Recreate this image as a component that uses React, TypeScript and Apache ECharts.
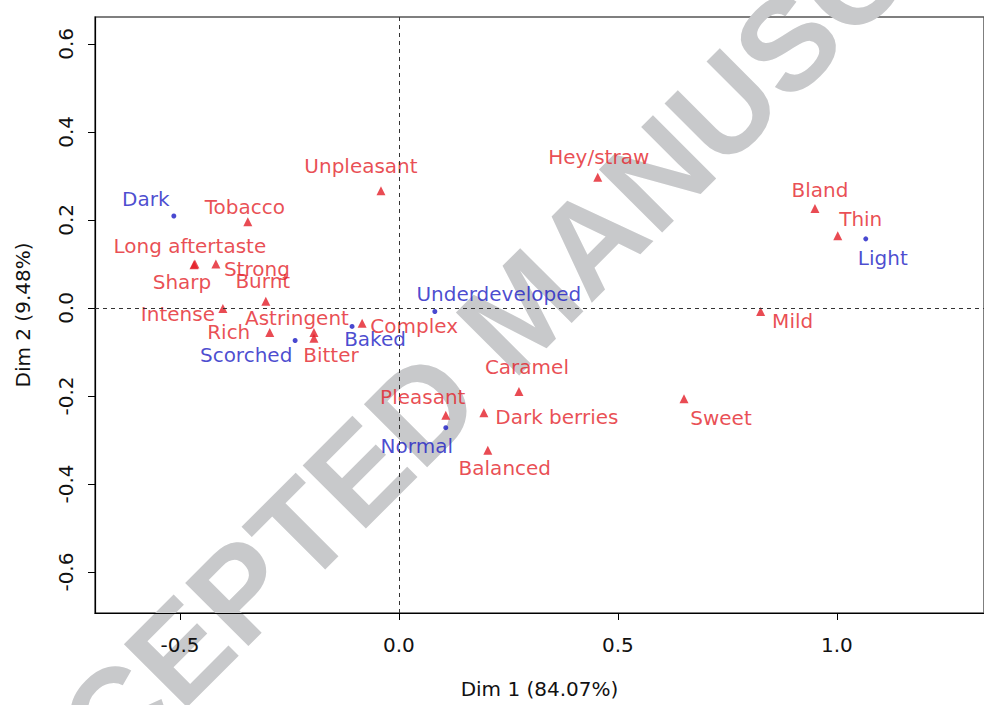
import React, { useEffect, useRef } from "react";
import * as echarts from "echarts";

// Row points (roast categories) of the correspondence analysis
const rowNames = ["Dark", "Light", "Underdeveloped", "Baked", "Scorched", "Normal"];
const rowDim1 = [-0.514, 1.066, 0.082, -0.107, -0.237, 0.107];
const rowDim2 = [0.209, 0.157, -0.008, -0.042, -0.074, -0.272];

// Column points (sensory attributes)
const colNames = [
  "Unpleasant", "Hey/straw", "Bland", "Thin", "Tobacco", "Long aftertaste", "Sharp",
  "Strong", "Burnt", "Intense", "Rich", "Astringent", "Bitter", "Complex", "Mild",
  "Caramel", "Pleasant", "Dark berries", "Sweet", "Balanced",
];
const colDim1 = [
  -0.041, 0.454, 0.95, 1.002, -0.345, -0.466, -0.468, -0.418, -0.304, -0.402, -0.295,
  -0.194, -0.194, -0.084, 0.826, 0.274, 0.107, 0.194, 0.651, 0.203,
];
const colDim2 = [
  0.266, 0.297, 0.226, 0.164, 0.196, 0.1, 0.098, 0.1, 0.015, -0.001, -0.056, -0.056,
  -0.069, -0.035, -0.008, -0.19, -0.244, -0.238, -0.206, -0.323,
];

const dim1Ticks = [-0.5, 0, 0.5, 1.0];
const dim2Ticks = [-0.6, -0.4, -0.2, 0, 0.2, 0.4, 0.6];

// Label placement (pixel offset of each label from its point), chosen to avoid overlaps
const labelOffset: Record<string, [number, number]> = {
  Dark: [-28, -17],
  Light: [17, 19],
  Underdeveloped: [64, -17],
  Baked: [23, 13],
  Scorched: [-49, 14],
  Normal: [-29, 18],
  Unpleasant: [-20, -25],
  "Hey/straw": [1, -20],
  Bland: [5, -18],
  Thin: [23, -17],
  Tobacco: [-3, -15],
  "Long aftertaste": [-5, -18],
  Sharp: [-12, 17],
  Strong: [41, 5],
  Burnt: [-3, -20],
  Intense: [-45, 6],
  Rich: [-41, -1],
  Astringent: [-17, -15],
  Bitter: [17, 17],
  Complex: [52, 3],
  Mild: [32, 10],
  Caramel: [8, -25],
  Pleasant: [-23, -18],
  "Dark berries": [73, 4],
  Sweet: [37, 19],
  Balanced: [17, 18],
};

const FONT = "DejaVu Sans";
const RED = "#e41e28";
const BLUE = "#1c1cc4";

function points(names: string[], xs: number[], ys: number[]) {
  return names.map((n, i) => ({
    name: n,
    value: [xs[i], ys[i]],
    label: { offset: labelOffset[n] || [0, -18] },
  }));
}

export default function App() {
  const ref = useRef<HTMLDivElement>(null);

  useEffect(() => {
    if (!ref.current) return;
    const chart = echarts.init(ref.current, undefined, { renderer: "svg" });

    const axisText = { fontFamily: FONT, fontSize: 20, color: "#111" };

    chart.setOption({
      animation: false,
      backgroundColor: "#fff",
      grid: {
        left: 95,
        right: 0,
        top: 17,
        bottom: 92,
        show: true,
        borderColor: "#555",
        borderWidth: 1.5,
        outerBoundsMode: "none",
      },
      xAxis: {
        type: "value",
        min: -0.694,
        max: 1.336,
        z: 4,
        axisLine: { show: true, onZero: false, lineStyle: { color: "#000", width: 1.2 } },
        axisTick: { show: true, length: 7, customValues: dim1Ticks, lineStyle: { color: "#000" } },
        axisLabel: {
          ...axisText,
          customValues: dim1Ticks,
          margin: 22,
          formatter: (v: number) => v.toFixed(1),
        },
        splitLine: { show: false },
        name: "Dim 1 (84.07%)",
        nameLocation: "middle",
        nameGap: 66,
        nameTextStyle: axisText,
      },
      yAxis: {
        type: "value",
        min: -0.693,
        max: 0.661,
        z: 4,
        axisLine: { show: true, onZero: false, lineStyle: { color: "#000", width: 1.2 } },
        axisTick: { show: true, length: 7, customValues: dim2Ticks, lineStyle: { color: "#000" } },
        axisLabel: {
          ...axisText,
          customValues: dim2Ticks,
          rotate: 90,
          margin: 19,
          formatter: (v: number) => v.toFixed(1),
        },
        splitLine: { show: false },
        name: "Dim 2 (9.48%)",
        nameLocation: "middle",
        nameGap: 62,
        nameTextStyle: axisText,
      },
      graphic: [
        {
          type: "text",
          x: 522,
          y: 309,
          rotation: 0.785,
          z: 1,
          silent: true,
          style: {
            text: "ACCEPTED MANUSCRIPT",
            fontFamily: "Liberation Sans",
            fontWeight: "bold",
            fontSize: 130,
            fill: "#c8c9cb",
            align: "center",
            verticalAlign: "middle",
          },
        },
      ],
      series: [
        {
          // dashed reference lines through the origin
          type: "scatter",
          data: [],
          z: 0,
          silent: true,
          markLine: {
            silent: true,
            symbol: "none",
            label: { show: false },
            lineStyle: { type: [4, 4], color: "#333", width: 1 },
            data: [{ xAxis: 0 }, { yAxis: 0 }],
          },
        },
        {
          name: "Attributes",
          type: "scatter",
          z: 3,
          symbol: "triangle",
          symbolSize: 9,
          itemStyle: { color: RED },
          label: {
            show: true,
            position: "inside",
            formatter: "{b}",
            fontFamily: FONT,
            fontSize: 20,
            color: RED,
            align: "center",
            verticalAlign: "middle",
          },
          data: points(colNames, colDim1, colDim2),
        },
        {
          name: "Roast",
          type: "scatter",
          z: 3,
          symbol: "circle",
          symbolSize: 5,
          itemStyle: { color: BLUE },
          label: {
            show: true,
            position: "inside",
            formatter: "{b}",
            fontFamily: FONT,
            fontSize: 20,
            color: BLUE,
            align: "center",
            verticalAlign: "middle",
          },
          data: points(rowNames, rowDim1, rowDim2),
        },
      ],
    });

    return () => chart.dispose();
  }, []);

  return (
    <div
      ref={ref}
      style={{ position: "fixed", left: 0, top: 0, width: 984, height: 705, background: "#fff" }}
    />
  );
}
